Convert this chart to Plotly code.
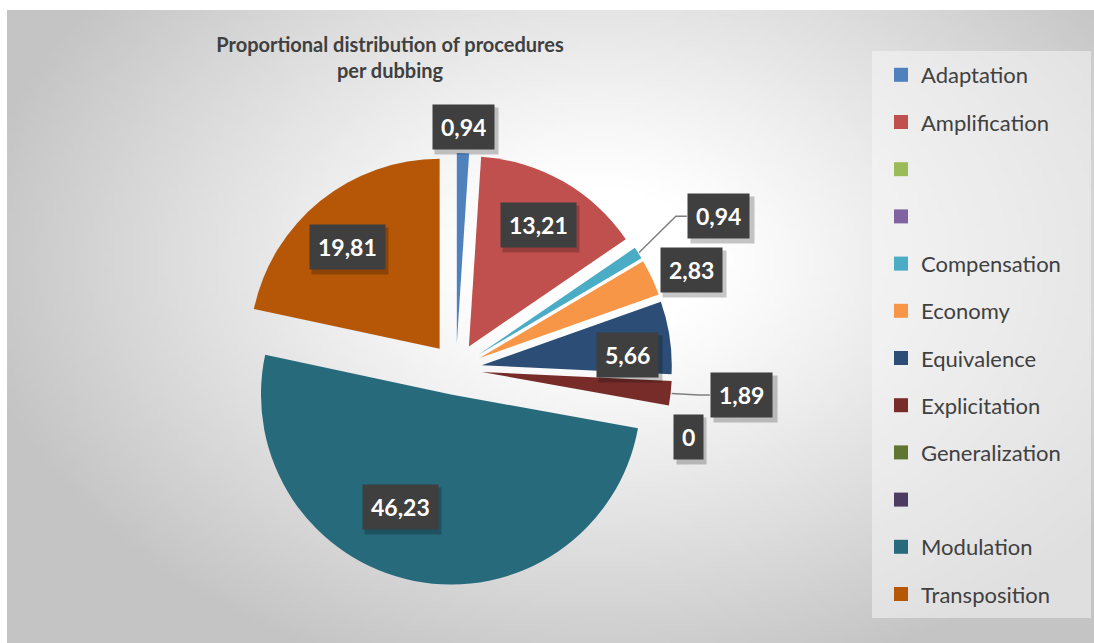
import base64
import math
import struct
import zlib

import numpy as np
import plotly.graph_objects as go

# ---- data -------------------------------------------------------------
categories = ["Adaptation", "Amplification", "\u00a0", "\u00a0\u00a0", "Compensation",
              "Economy", "Equivalence", "Explicitation", "Generalization",
              "\u00a0\u00a0\u00a0", "Modulation", "Transposition"]
values = [0.94, 13.21, 0, 0, 0.94, 2.83, 5.66, 1.89, 0, 0, 46.23, 19.81]
colors = ["#4F81BD", "#C0504D", "#9BBB59", "#8064A2", "#4BACC6", "#F79646",
          "#2C4D75", "#772C2A", "#5F7530", "#4D3B62", "#276A7C", "#B65708"]
title_lines = ["Proportional distribution of procedures", "per dubbing"]

# ---- geometry / style --------------------------------------------------
W, H = 1094, 643
CX, CY = 456, 369          # pie centre in pixels
R = 190                    # pie radius in pixels
PULL = 0.137               # explosion of every slice (fraction of radius)
FONT = "Lato"
TEXT_GREY = "#404040"
LABEL_SIZE = 23

# label placement per slice: (angle shift in degrees, distance / R)
label_place = {0: (0, 1.274), 1: (0, 0.874), 4: (2.4, 1.605), 5: (2.3, 1.347),
               6: (3.7, 0.908), 7: (-1.3, 1.516), 8: (6.1, 1.274),
               10: (10.9, 0.784), 11: (-2.7, 0.861)}
leader_slices = {4, 7}


def px(x):
    return x / W


def py(y):
    return 1 - y / H


def polar(angle_deg, dist):
    a = math.radians(angle_deg)
    return CX + dist * math.sin(a), CY - dist * math.cos(a)


def fmt(v):
    return ("%g" % v).replace(".", ",")


def text_width(s):
    # approximate advance of bold digits / comma at LABEL_SIZE
    return sum(0.58 * LABEL_SIZE if ch.isdigit() else 0.3 * LABEL_SIZE for ch in s)


# ---- radial grey background as a small PNG -----------------------------
def gray_png(arr):
    h, w = arr.shape
    raw = b"".join(b"\x00" + arr[i].tobytes() for i in range(h))

    def chunk(tag, data):
        c = struct.pack(">I", len(data)) + tag + data
        return c + struct.pack(">I", zlib.crc32(tag + data) & 0xFFFFFFFF)

    png = b"\x89PNG\r\n\x1a\n"
    png += chunk(b"IHDR", struct.pack(">IIBBBBB", w, h, 8, 0, 0, 0, 0))
    png += chunk(b"IDAT", zlib.compress(raw, 9))
    png += chunk(b"IEND", b"")
    return "data:image/png;base64," + base64.b64encode(png).decode()


gw, gh = 219, 127
gx = np.linspace(7, W, gw)[None, :]
gy = np.linspace(10, H, gh)[:, None]
d = np.sqrt(((gx - 600) / 620) ** 2 + ((gy - 260) / 430) ** 2)
t = np.clip((d - 0.18) / 0.85, 0, 1) ** 1.1
bg = (255 - (255 - 196) * t).astype(np.uint8)
bg_uri = gray_png(bg)

# ---- figure ------------------------------------------------------------
total = sum(values)
half = R * (1 + PULL)

fig = go.Figure()
fig.add_trace(go.Pie(
    labels=categories, values=values, sort=False, direction="clockwise",
    rotation=0, pull=[PULL] * len(values), textinfo="none",
    marker=dict(colors=colors, line=dict(width=0)), showlegend=False,
    domain=dict(x=[px(CX - half), px(CX + half)], y=[py(CY + half), py(CY - half)]),
))

# legend entries
for i, (name, col) in enumerate(zip(categories, colors)):
    fig.add_trace(go.Scatter(
        x=[None], y=[None], mode="markers", name=name, legendgroup=str(i),
        marker=dict(symbol="square", size=14, color=col), hoverinfo="skip",
    ))

# data labels
annotations = []
shapes = []
cum = 0.0
for i, v in enumerate(values):
    start = cum / total * 360
    cum += v
    end = cum / total * 360
    mid = (start + end) / 2
    if i not in label_place:
        continue
    shift, frac = label_place[i]
    lx, ly = polar(mid + shift, frac * R)
    text = fmt(v)
    tw = text_width(text)
    anchor = "center"
    if i in leader_slices:
        ex, ey = polar(mid, R * (1 + PULL) + 1)
        left = lx - 33
        shapes.append(dict(
            type="path", xref="paper", yref="paper",
            path=f"M {px(ex)},{py(ey)} L {px(left - 11)},{py(ly)} L {px(left)},{py(ly)}",
            line=dict(color="#7f7f7f", width=1.5)))
        lx = left
        anchor = "left"
    common = dict(xref="paper", yref="paper", showarrow=False, xanchor=anchor,
                  yanchor="middle", borderpad=8)
    # soft drop shadow behind the label box
    annotations.append(dict(common, x=px(lx + 3), y=py(ly + 4), text="\u00a0",
                            width=tw, height=LABEL_SIZE * 1.3,
                            bgcolor="rgba(0,0,0,0.22)",
                            font=dict(family=FONT, size=LABEL_SIZE, color="rgba(0,0,0,0)")))
    annotations.append(dict(common, x=px(lx), y=py(ly), text=text, bgcolor="#3f3f3f",
                            font=dict(family=FONT, size=LABEL_SIZE, color="white",
                                      weight="bold")))

# legend panel
shapes.insert(0, dict(type="rect", xref="paper", yref="paper", layer="below",
                      x0=px(872), x1=px(1091), y0=py(618), y1=py(51),
                      fillcolor="rgba(246,246,246,0.55)", line=dict(width=0)))

fig.update_layout(
    width=W, height=H, margin=dict(l=0, r=0, t=0, b=0),
    paper_bgcolor="white", plot_bgcolor="rgba(0,0,0,0)",
    xaxis=dict(visible=False), yaxis=dict(visible=False),
    title=dict(text="<br>".join(title_lines), x=px(390), xanchor="center",
               y=py(52), yanchor="top",
               font=dict(family=FONT, size=20, color=TEXT_GREY, weight="bold")),
    legend=dict(x=px(881), xanchor="left", y=py(54), yanchor="top",
                bgcolor="rgba(0,0,0,0)", tracegroupgap=15.6,
                font=dict(family=FONT, size=22, color=TEXT_GREY)),
    images=[dict(source=bg_uri, xref="paper", yref="paper", x=px(7), y=py(10),
                 sizex=1 - px(7), sizey=(H - 10) / H, sizing="stretch",
                 layer="below")],
    shapes=shapes, annotations=annotations,
)

fig.write_html("out.html")
